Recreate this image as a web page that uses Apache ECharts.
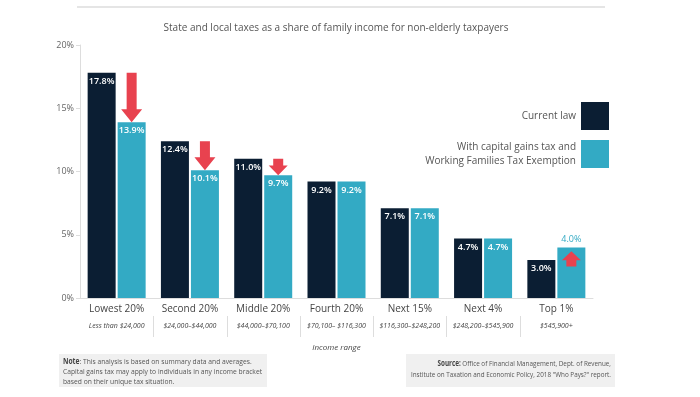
<!DOCTYPE html>
<html>
<head>
<meta charset="utf-8">
<script src="https://cdn.jsdelivr.net/npm/echarts@6/dist/echarts.min.js"></script>
<style>
  html, body { margin: 0; padding: 0; background: #fff; }
  #chart { width: 700px; height: 397px; }
</style>
</head>
<body>
<div id="chart"></div>
<script>
// income groups and their dollar ranges
const categories = ['Lowest 20%', 'Second 20%', 'Middle 20%', 'Fourth 20%', 'Next 15%', 'Next 4%', 'Top 1%'];
const incomeRanges = ['Less than $24,000', '$24,000–$44,000', '$44,000–$70,100', '$70,100– $116,300',
  '$116,300–$248,200', '$248,200–$545,900', '$545,900+'];
// tax share, percent
const currentLaw = [17.8, 12.4, 11.0, 9.2, 7.1, 4.7, 3.0];
const withReform = [13.9, 10.1, 9.7, 9.2, 7.1, 4.7, 4.0];
// red arrows: [category index, from value, to value]
const arrows = [[0, 17.8, 13.9], [1, 12.4, 10.1], [2, 11.0, 9.7], [6, 2.5, 3.7]];
// separators sit on the left edge of these categories
const separators = [1, 2, 3, 4, 5, 6];

const NAVY = '#0b1e33';
const TEAL = '#33aac4';
const RED = '#e8424f';
const BAR_W = 28;
const BAR_GAP = 2;

const seriesA = 'Current law';
const seriesB = 'With capital gains tax and Working Families Tax Exemption';

const chart = echarts.init(document.getElementById('chart'));

chart.setOption({
  animation: false,
  textStyle: { fontFamily: 'Open Sans' },
  grid: { left: 80, right: 107, top: 45, bottom: 99 },
  legend: {
    orient: 'vertical',
    right: 86,
    top: 97,
    align: 'right',
    icon: 'rect',
    itemWidth: 28,
    itemHeight: 28,
    itemGap: 10,
    data: [seriesA, seriesB],
    textStyle: { fontSize: 10, color: '#555', lineHeight: 14 },
    formatter: function (name) {
      return name === seriesB ? 'With capital gains tax and\nWorking Families Tax Exemption' : name;
    }
  },
  xAxis: {
    type: 'category',
    data: categories,
    name: 'Income range',
    nameLocation: 'middle',
    nameGap: 46,
    nameTextStyle: { fontSize: 8, fontStyle: 'italic', color: '#444' },
    axisLine: { lineStyle: { color: '#ddd' } },
    axisTick: { length: 4, lineStyle: { color: '#ddd' } },
    axisLabel: {
      interval: 0,
      margin: 3,
      formatter: function (v, i) { return '{a|' + v + '}\n{b|' + incomeRanges[i] + '}'; },
      rich: {
        a: { fontSize: 10, color: '#444', lineHeight: 16 },
        b: { fontSize: 7, fontStyle: 'italic', color: '#444', lineHeight: 18 }
      }
    }
  },
  yAxis: {
    type: 'value',
    min: 0,
    max: 20,
    interval: 5,
    axisLine: { show: true, lineStyle: { color: '#ddd' } },
    axisTick: { show: true, length: 4, lineStyle: { color: '#ddd' } },
    splitLine: { show: false },
    axisLabel: { formatter: '{value}%', fontSize: 9, color: '#666', margin: 6 }
  },
  graphic: [
    { type: 'line', shape: { x1: 77, y1: 7, x2: 605, y2: 7 }, style: { stroke: '#ddd', lineWidth: 1.5 } },
    {
      type: 'text', x: 336, y: 28,
      style: {
        text: 'State and local taxes as a share of family income for non-elderly taxpayers',
        fontSize: 10, fill: '#555', align: 'center', verticalAlign: 'middle', fontFamily: 'Open Sans'
      }
    },
    { type: 'rect', shape: { x: 59, y: 354, width: 208, height: 33 }, style: { fill: '#f0f0f0' } },
    {
      type: 'text', x: 63, y: 357, scaleX: 0.84,
      style: {
        text: '{b|Note}: This analysis is based on summary data and averages.\nCapital gains tax may apply to individuals in any income bracket\nbased on their unique tax situation.',
        fontSize: 8, fill: '#555', lineHeight: 10, fontFamily: 'Open Sans',
        rich: { b: { fontWeight: 'bold', fontSize: 8, fill: '#444', fontFamily: 'Open Sans' } }
      }
    },
    { type: 'rect', shape: { x: 406, y: 354, width: 209, height: 33 }, style: { fill: '#f0f0f0' } },
    {
      type: 'text', x: 611, y: 358, scaleX: 0.79,
      style: {
        text: '{b|Source:} Office of Financial Management, Dept. of Revenue,\nInstitute on Taxation and Economic Policy, 2018 "Who Pays?" report.',
        fontSize: 8, fill: '#555', lineHeight: 11, align: 'right', fontFamily: 'Open Sans',
        rich: { b: { fontWeight: 'bold', fontSize: 8, fill: '#444', fontFamily: 'Open Sans' } }
      }
    }
  ],
  series: [
    {
      name: seriesA,
      type: 'bar',
      barWidth: BAR_W,
      barGap: (BAR_GAP / BAR_W * 100) + '%',
      itemStyle: { color: NAVY },
      label: {
        show: true, position: 'insideTop', distance: 4,
        color: '#fff', fontSize: 9, fontWeight: 600,
        formatter: function (p) { return p.value.toFixed(1) + '%'; }
      },
      data: currentLaw
    },
    {
      name: seriesB,
      type: 'bar',
      barWidth: BAR_W,
      itemStyle: { color: TEAL },
      label: {
        show: true, position: 'insideTop', distance: 4,
        color: '#fff', fontSize: 9, fontWeight: 600,
        formatter: function (p) { return p.value.toFixed(1) + '%'; }
      },
      data: withReform.map(function (v, i) {
        // the only increase is labelled above its bar
        if (v > currentLaw[i]) {
          return { value: v, label: { position: 'top', distance: 3, color: TEAL, fontWeight: 'normal' } };
        }
        return v;
      })
    },
    {
      type: 'custom',
      silent: true,
      z: 5,
      data: arrows,
      renderItem: function (params, api) {
        const p0 = api.coord([api.value(0), api.value(1)]);
        const p1 = api.coord([api.value(0), api.value(2)]);
        const x = p0[0] + BAR_W / 2 + BAR_GAP / 2;
        const len = Math.abs(p1[1] - p0[1]);
        const dir = p1[1] > p0[1] ? 1 : -1;
        const head = Math.min(13, len * 0.6);
        const neck = p1[1] - dir * head;
        const hw = head < 11 ? 9.5 : 10.5;
        return {
          type: 'polygon',
          shape: {
            points: [
              [x - 5, p0[1]], [x + 5, p0[1]], [x + 5, neck], [x + hw, neck],
              [x, p1[1]], [x - hw, neck], [x - 5, neck]
            ]
          },
          style: { fill: RED }
        };
      }
    },
    {
      type: 'custom',
      silent: true,
      clip: false,
      data: separators.map(function (i) { return [i, 0]; }),
      renderItem: function (params, api) {
        const p = api.coord([api.value(0), 0]);
        const band = api.size([1, 0])[0];
        const x = Math.round(p[0] - band / 2) + 0.5;
        return {
          type: 'line',
          shape: { x1: x, y1: p[1] + 18, x2: x, y2: p[1] + 39 },
          style: { stroke: '#ddd', lineWidth: 1 }
        };
      }
    }
  ]
});
</script>
</body>
</html>
